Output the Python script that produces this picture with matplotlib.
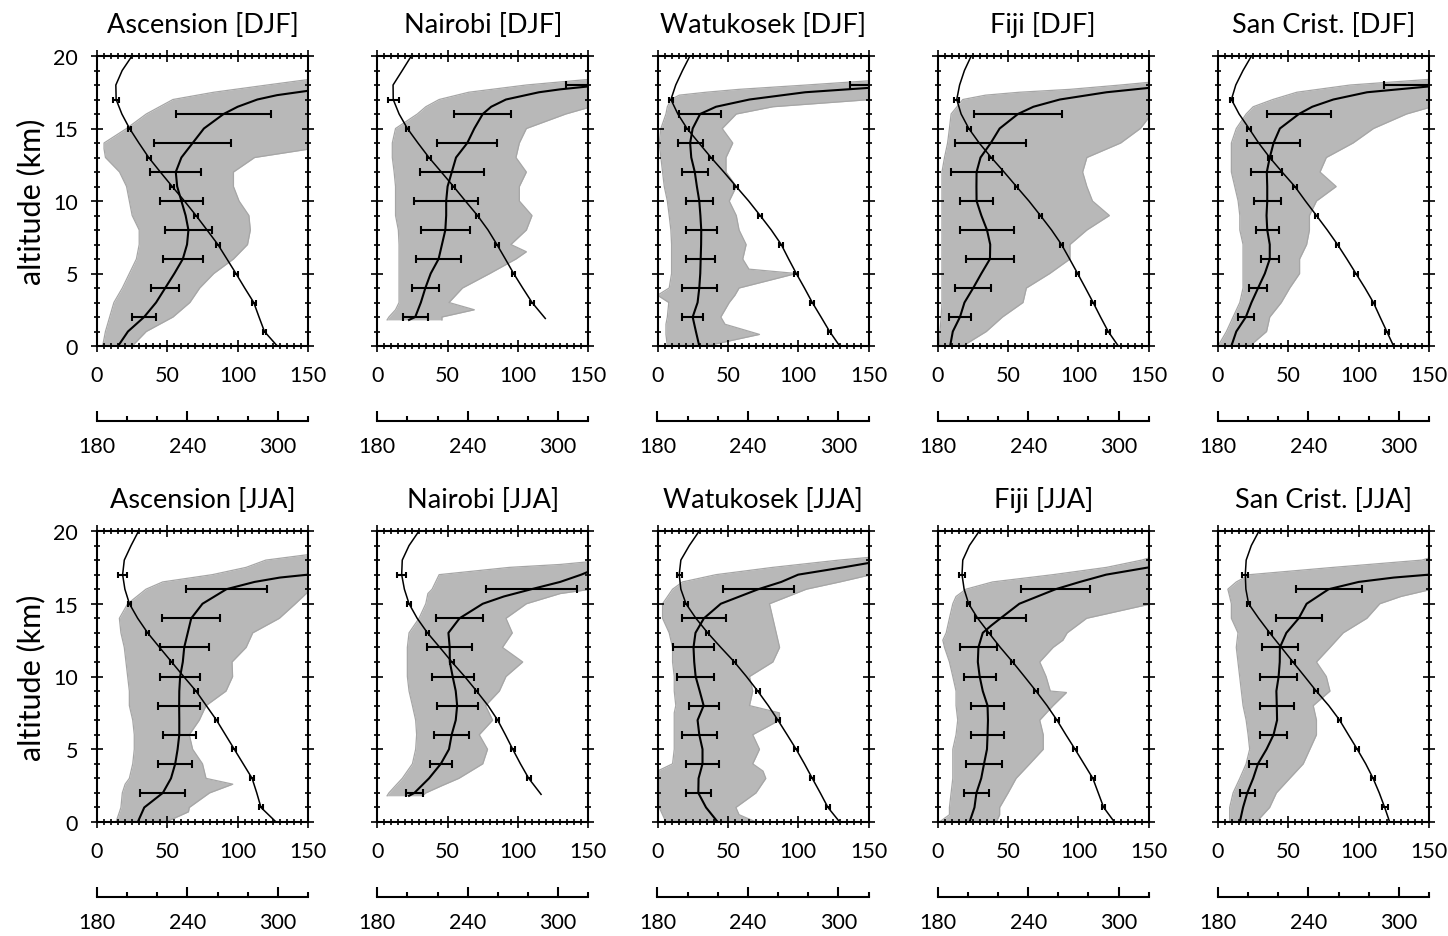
import numpy as np
import matplotlib.pyplot as plt
from matplotlib.ticker import MultipleLocator

plt.rcParams['font.family'] = ['Lato', 'DejaVu Sans']

# ---- common altitude levels (km)
EVEN_KM = [2, 4, 6, 8, 10, 12, 14, 16, 18]   # ozone error bars
ODD_KM = [1, 3, 5, 7, 9, 11, 13, 15, 17]     # temperature error bars
T_ALT = list(range(0, 21))
T_ALT_NAIROBI = [1.9] + list(range(3, 21))

# ======================= DJF =======================
# Ascension DJF
asc_djf_o3_alt = [0, 1, 2, 3, 4, 5, 6, 7, 8, 9, 10, 11, 12, 13, 14, 15, 16, 16.5, 17, 17.3, 17.6, 18]
asc_djf_o3 = [15, 22, 33.5, 42, 48.5, 55, 61, 64, 65, 63, 60, 57, 56, 60, 68, 76, 90, 100, 114, 128,
              150, 170]
asc_djf_o3_sd = [8.5, 10, 14, 17, 15.5, 18, 27.5, 34]
asc_djf_t = [299.6, 291.1, 287.5, 284, 278, 272.2, 266.2, 260.2, 253, 245.7, 238, 229.9, 222,
             214.3, 207.8, 201.6, 196.5, 192.7, 192.5, 196.7, 203.2]
asc_djf_t_sd = [1.2, 1.2, 1.2, 1.2, 1.2, 1.2, 1.2, 1.2, 1.8]
asc_djf_env_alt = [0, 1, 2, 3, 4, 5, 6, 7, 8, 9, 10, 11, 12, 13, 13.6, 14, 15, 16, 17, 17.5, 18, 18.4]
asc_djf_env_lo = [4, 6, 9, 12, 18, 23, 28, 30, 30, 25, 23, 21, 16, 6, 5, 5, 21, 35, 54, 83, 121, 152]
asc_djf_env_hi = [25, 35, 54, 66, 73, 83, 97, 107, 109, 108, 101, 97, 97, 112, 152, 152, 152, 152,
                  152, 152, 152, 152]

# Nairobi DJF
nai_djf_o3_alt = [1.8, 2, 3, 4, 5, 6, 7, 8, 9, 10, 11, 12, 13, 14, 15, 16, 16.5, 17, 17.5, 17.7,
                  17.9, 18]
nai_djf_o3 = [22.6, 27, 31, 34.2, 38, 43.6, 46, 48.4, 49, 49, 50, 53, 56, 64, 69, 75, 81, 91.5, 115,
              130, 150, 155]
nai_djf_o3_sd = [8.9, 9.7, 15.8, 17.5, 22.8, 22.9, 21.3, 20.4, 21]
nai_djf_t = [291.5, 282.7, 276.5, 270.5, 265, 259.4, 253.5, 246.5, 238.5, 230.6, 222.5, 214.3,
             207, 200, 194.5, 190.6, 190.5, 196.6, 202.6]
nai_djf_t_sd = [np.nan, 1.2, 1.2, 1.2, 1.2, 1.2, 1.2, 1.2, 3.7]
nai_djf_env_alt = [1.8, 2, 2.5, 3, 4, 5, 6, 6.5, 7, 8, 9, 10, 11, 12, 13, 14, 15, 16, 16.5, 17, 17.5,
                   18, 18.4]
nai_djf_env_lo = [7, 8.3, 13, 15.5, 15.5, 15.5, 15.5, 15.5, 15.5, 15, 13, 13, 13, 12, 10.7, 10.7, 13,
                  28.5, 34.5, 44, 65, 106, 152]
nai_djf_env_hi = [46, 46, 69, 51, 60.6, 80, 98.6, 106, 95, 106, 110, 101, 101, 106, 98.6, 101, 106,
                  134, 152, 152, 152, 152, 152]

# Watukosek DJF
wat_djf_o3_alt = [0, 1, 2, 3, 4, 5, 6, 7, 8, 9, 10, 11, 12, 13, 14, 15, 16, 16.5, 17, 17.5, 17.8, 18]
wat_djf_o3 = [29.7, 27.3, 25, 28.5, 29.7, 30.4, 30.7, 31, 31.1, 30.5, 29.7, 28, 26.5, 24, 23.2, 25,
              30.3, 41.6, 65.4, 105, 150, 160]
wat_djf_o3_sd = [7.6, 12.4, 10.5, 10.9, 9.5, 9.2, 8.9, 14.9, 23]
wat_djf_t = [300.9, 294.2, 288.5, 282.7, 277.5, 272.1, 267, 262.1, 255.5, 248.1, 240.5, 232.2, 224,
             215.5, 207.5, 199.6, 193.5, 188.9, 192.1, 196.6, 201.5]
wat_djf_t_sd = [1.2, 1.2, 1.2, 1.2, 1.2, 1.2, 1.2, 1.2, 1.2]
wat_djf_env_alt = [0, 0.8, 1.5, 2, 3, 3.5, 4, 5, 5.3, 6, 7, 8, 9, 10, 11, 12, 13, 14, 15, 16, 16.5,
                   17, 17.3, 17.5, 17.7, 18, 18.3]
wat_djf_env_lo = [7, 6, 6, 7, 8, 0, 8.3, 10, 10, 10, 10, 9.5, 8.3, 7, 4.8, 3.6, 2.4, 1.2, 2.4, 6, 7,
                  9.5, 15.5, 34.5, 58, 106, 152]
wat_djf_env_hi = [34.5, 72.5, 48, 45, 51, 55, 58, 98.6, 65, 60.6, 63, 58, 56, 51, 56, 48.7, 48.7,
                  53.5, 46, 56, 82, 152, 152, 152, 152, 152, 152]

# Fiji DJF
fij_djf_o3_alt = [0, 1, 2, 3, 4, 5, 6, 7, 8, 9, 10, 11, 12, 13, 14, 15, 16, 16.5, 17, 17.5, 17.8, 18]
fij_djf_o3 = [8.8, 10.7, 15.8, 19, 25.2, 31, 37.1, 37.3, 35, 31, 27.6, 27.5, 27.6, 30.4, 37.7, 44,
              57, 68, 86.8, 120, 150, 170]
fij_djf_o3_sd = [8, 12.8, 16.9, 19, 11.6, 18, 25.3, 31]
fij_djf_t = [299.8, 293.1, 288, 283.1, 278, 272.8, 267.5, 262.1, 255.5, 248.1, 240.5, 232.2, 224,
             215.5, 207.5, 200.6, 195.5, 192.6, 194.5, 197.7, 202.2]
fij_djf_t_sd = [1.2, 1.2, 1.2, 1.2, 1.2, 1.2, 1.2, 1.2, 1.6]
fij_djf_env_alt = [0, 1, 2, 3, 4, 5, 6, 7, 8, 9, 10, 11, 12, 13, 14, 15, 16, 17, 17.3, 17.5, 17.7,
                   18, 18.2]
fij_djf_env_lo = [1.2, 1.6, 2.4, 3, 3, 3, 3, 3, 3, 3, 3, 3, 3, 4.8, 7, 8.3, 9.5, 17.8, 34, 58, 94,
                  130, 152]
fij_djf_env_hi = [17.8, 34.5, 46, 60.6, 63, 79.6, 94, 94, 106, 122, 110, 106, 103, 106, 130, 144,
                  152, 152, 152, 152, 152, 152, 152]

# San Cristobal DJF
san_djf_o3_alt = [0, 1, 2, 3, 4, 5, 6, 7, 8, 9, 10, 11, 12, 13, 14, 15, 16, 16.5, 17, 17.5, 17.9, 18]
san_djf_o3 = [9.5, 13, 19.8, 23.8, 28.5, 33.3, 36.8, 36.8, 35, 34.5, 35, 35, 34.7, 36.8, 39.5, 44,
              57.5, 67, 82, 106, 150, 158]
san_djf_o3_sd = [5.6, 6.4, 6.4, 8.2, 9.5, 10.9, 18.8, 22.6, 40]
san_djf_t = [296.5, 292, 287.5, 283.1, 277.5, 271.5, 265.5, 259.3, 252.5, 245.3, 238, 231, 222.5,
             214.3, 207, 200.6, 194, 188.9, 191.8, 196.6, 202.2]
san_djf_t_sd = [1.2, 1.2, 1.2, 1.2, 1.2, 1.2, 1.2, 1.2, 1.2]
san_djf_env_alt = [0, 1, 2, 3, 4, 5, 6, 7, 8, 9, 10, 11, 12, 13, 14, 15, 16, 16.5, 17, 17.5, 18, 18.4]
san_djf_env_lo = [0, 6, 10.7, 15.5, 17.8, 17.8, 17.8, 17.8, 15.5, 15.5, 14.3, 11.9, 9.5, 9.5, 9.5,
                  13, 20, 25, 39, 56, 94, 152]
san_djf_env_hi = [22.6, 34.5, 36.8, 45, 51, 58, 58, 63, 65, 65, 70, 84, 72.5, 77, 96, 110.5, 134,
                  152, 152, 152, 152, 152]

# ======================= JJA =======================
# Ascension JJA
asc_jja_o3_alt = [0, 1, 2, 3, 4, 5, 6, 7, 8, 9, 10, 11, 12, 13, 14, 15, 16, 16.5, 16.8, 17, 17.2]
asc_jja_o3 = [29, 33.6, 46.8, 52.6, 55.6, 57.3, 58.5, 58.5, 58.4, 58.5, 59.1, 61, 62, 64.5, 67, 75,
              92, 112, 130, 150, 165]
asc_jja_o3_sd = [16, 12, 11.8, 14.8, 14.1, 17.3, 20.6, 28.9]
asc_jja_t = [298.8, 288.8, 286, 282.9, 277, 271.1, 265.2, 259.3, 252.5, 245.7, 237.5, 229.5, 221.5,
             213.6, 207, 201.5, 198.5, 197, 198.1, 202.6, 207.6]
asc_jja_t_sd = [1.2, 1.2, 1.2, 1.2, 1.2, 1.2, 1.2, 1.2, 3]
asc_jja_env_alt = [0, 0.7, 1, 2, 2.6, 3, 4, 5, 6, 7, 8, 9, 10, 11, 12, 13, 14, 15, 16, 16.5, 17,
                   17.5, 18, 18.4]
asc_jja_env_lo = [13.5, 16, 17, 18, 20, 23, 25.4, 26.5, 26.5, 25.4, 23, 23, 21.8, 20.6, 19.4, 17,
                  15.9, 21.8, 34.8, 46.7, 82, 106, 120, 152]
asc_jja_env_hi = [49, 65, 65.6, 80, 96.5, 77.5, 75, 68, 65.6, 72.7, 77.5, 91.7, 96.4, 96, 106, 110.7,
                  129.6, 141, 152, 152, 152, 152, 152, 152]

# Nairobi JJA
nai_jja_o3_alt = [1.8, 2, 3, 4, 5, 6, 7, 8, 9, 10, 11, 12, 13, 14, 15, 15.5, 16, 16.5, 17, 17.2, 17.5]
nai_jja_o3 = [22.6, 26.4, 36.8, 45.2, 51, 52.9, 55.8, 56.8, 55.8, 53.6, 51.6, 51.5, 50.6, 58.5, 75,
              90, 109.6, 130, 145, 150, 160]
nai_jja_o3_sd = [6.2, 7.8, 12.5, 14.5, 14.9, 15.8, 16.4, 32.3]
nai_jja_t = [288.7, 280.5, 275, 269.9, 265, 259.9, 253.5, 245.9, 238, 229.5, 221.5, 213.3, 206.5,
             201.1, 198, 196.2, 196.6, 201.1, 207.7]
nai_jja_t_sd = [np.nan, 1.2, 1.2, 1.2, 1.2, 1.2, 1.2, 1.2, 3]
nai_jja_env_alt = [1.8, 2, 2.5, 3, 4, 5, 6, 7, 8, 9, 10, 11, 12, 13, 14, 15, 15.7, 16, 17, 17.5,
                   17.7, 17.9]
nai_jja_env_lo = [7, 8.3, 13, 17.8, 25, 27.3, 28, 27.3, 25, 22.6, 21.4, 21.4, 21.4, 22.6, 29.7, 34.5,
                  36, 39, 44, 94, 130, 152]
nai_jja_env_hi = [32, 34.5, 46, 58, 75, 78.4, 72.5, 82, 77, 86.8, 91.5, 103.4, 89, 96, 91.5, 106,
                  130, 152, 152, 152, 152, 152]

# Watukosek JJA
wat_jja_o3_alt = [0, 1, 2, 3, 4, 5, 6, 7, 8, 9, 10, 11, 12, 13, 14, 15, 16, 16.5, 17, 17.5, 17.8, 18]
wat_jja_o3 = [42.8, 34.5, 29, 29.2, 32, 32, 29.7, 28.5, 32.8, 30, 27.1, 26.1, 25.6, 27, 33, 45, 71.7,
              88, 100, 132, 150, 160]
wat_jja_o3_sd = [8.7, 11.9, 12.4, 10.7, 13.3, 14.9, 15.5, 25.3]
wat_jja_t = [300.9, 293.1, 288, 282.7, 277.5, 272, 266, 259.9, 253.5, 246.5, 239, 231, 222, 213.3,
             205.5, 198.9, 195.5, 194.4, 195.5, 201.1, 207.7]
wat_jja_t_sd = [1.2, 1.2, 1.2, 1.2, 1.2, 1.2, 1.2, 1.2, 1.6]
wat_jja_env_alt = [0, 0.5, 1, 2, 3, 3.5, 4, 5, 6, 7, 7.5, 8, 9, 10, 11, 12, 13, 14, 15, 16, 16.5, 17,
                   17.5, 18, 18.2]
wat_jja_env_lo = [6, 3.6, 1.2, 1.2, 1.2, 0, 10.7, 11.9, 11.9, 11.9, 11.9, 13, 11.9, 11.9, 10.7, 10.7,
                  8.3, 3.6, 3.6, 10.7, 17.8, 41.6, 82, 129, 152]
wat_jja_env_hi = [70, 58, 55.7, 70, 77, 75, 67.7, 72.5, 67.7, 86.7, 86.7, 65.4, 67.7, 65.4, 82, 86.8,
                  84.4, 82, 79.6, 105.8, 129.6, 152, 152, 152, 152]

# Fiji JJA
fij_jja_o3_alt = [0, 1, 2, 3, 4, 5, 6, 7, 8, 9, 10, 11, 12, 13, 13.5, 14, 15, 16, 16.5, 17, 17.5,
                  17.7]
fij_jja_o3 = [22.6, 26.1, 27.5, 30.9, 32.9, 35, 35.4, 35.7, 35.4, 32, 29.8, 28.5, 28.9, 32, 38, 44.6,
              58, 83.8, 101, 119.7, 150, 160]
fij_jja_o3_sd = [8.9, 12.7, 11.6, 11.6, 11.3, 13.4, 18.4, 24.4]
fij_jja_t = [297.2, 290.1, 286.5, 282.9, 277, 271.1, 265, 259.1, 252.5, 245.2, 237.5, 229.7, 221.5,
             213.9, 206.5, 200.5, 197.5, 196.1, 196.6, 201, 207.6]
fij_jja_t_sd = [1.2, 1.2, 1.2, 1.2, 1.2, 1.2, 1.2, 1.2, 2.2]
fij_jja_env_alt = [0, 0.5, 1, 2, 3, 4, 5, 6, 7, 8, 8.9, 9, 10, 11, 12, 12.5, 13, 14, 15, 15.5, 16,
                   16.5, 17, 17.5, 18, 18.2]
fij_jja_env_lo = [1.2, 8.3, 8.3, 9.5, 10.7, 10.7, 10.7, 13, 14.2, 13, 13, 13, 10.7, 8.3, 4.8, 3.6, 6,
                  8.3, 10.7, 13, 20, 39, 82, 120, 145, 152]
fij_jja_env_hi = [41.6, 44, 44, 50, 55.7, 65.4, 75, 75, 72.5, 82, 91.5, 80, 77, 72.5, 82, 89, 92,
                  105.8, 152, 152, 152, 152, 152, 152, 152, 152]

# San Cristobal JJA
san_jja_o3_alt = [0, 1, 2, 3, 4, 5, 6, 7, 8, 9, 10, 11, 12, 13, 14, 15, 16, 16.5, 16.8, 17, 17.3]
san_jja_o3 = [15.5, 17.8, 20.8, 25, 28.4, 34.5, 39.5, 42, 41.8, 41.5, 43.1, 43.9, 44, 48.6, 57.4, 63,
              78.7, 100, 125, 150, 170]
san_jja_o3_sd = [5.3, 6.5, 9.7, 12.1, 13.4, 13, 16.5, 23.5]
san_jja_t = [293.9, 290.6, 287, 282.9, 278, 272.4, 266.5, 260.7, 253.5, 245.2, 237.5, 229.7, 222,
             214.3, 207, 200.3, 198.5, 198.1, 198.7, 202.1, 207.2]
san_jja_t_sd = [2, 1.2, 1.2, 1.2, 1.2, 1.2, 1.2, 1.2, 2]
san_jja_env_alt = [0, 1, 2, 3, 4, 5, 6, 7, 8, 9, 10, 11, 12, 13, 14, 15, 15.5, 16, 16.5, 17, 17.5,
                   18, 18.2]
san_jja_env_lo = [8.3, 8.3, 10.7, 15.5, 20, 22.5, 21.4, 20, 17.8, 16.6, 15.4, 14.2, 13, 14.2, 9.5,
                  9.5, 8.3, 7, 13, 22.6, 82, 145, 152]
san_jja_env_hi = [27.3, 36.7, 41.5, 51, 60.6, 65.3, 70, 70, 67.7, 79.6, 77, 70, 79.6, 89, 105.8, 115,
                  130, 152, 152, 152, 152, 152, 152]

stations = ["Ascension", "Nairobi", "Watukosek", "Fiji", "San Crist."]
seasons = ["DJF", "JJA"]

panels = [
    [(asc_djf_o3_alt, asc_djf_o3, asc_djf_o3_sd, T_ALT, asc_djf_t, asc_djf_t_sd,
      asc_djf_env_alt, asc_djf_env_lo, asc_djf_env_hi),
     (nai_djf_o3_alt, nai_djf_o3, nai_djf_o3_sd, T_ALT_NAIROBI, nai_djf_t, nai_djf_t_sd,
      nai_djf_env_alt, nai_djf_env_lo, nai_djf_env_hi),
     (wat_djf_o3_alt, wat_djf_o3, wat_djf_o3_sd, T_ALT, wat_djf_t, wat_djf_t_sd,
      wat_djf_env_alt, wat_djf_env_lo, wat_djf_env_hi),
     (fij_djf_o3_alt, fij_djf_o3, fij_djf_o3_sd, T_ALT, fij_djf_t, fij_djf_t_sd,
      fij_djf_env_alt, fij_djf_env_lo, fij_djf_env_hi),
     (san_djf_o3_alt, san_djf_o3, san_djf_o3_sd, T_ALT, san_djf_t, san_djf_t_sd,
      san_djf_env_alt, san_djf_env_lo, san_djf_env_hi)],
    [(asc_jja_o3_alt, asc_jja_o3, asc_jja_o3_sd, T_ALT, asc_jja_t, asc_jja_t_sd,
      asc_jja_env_alt, asc_jja_env_lo, asc_jja_env_hi),
     (nai_jja_o3_alt, nai_jja_o3, nai_jja_o3_sd, T_ALT_NAIROBI, nai_jja_t, nai_jja_t_sd,
      nai_jja_env_alt, nai_jja_env_lo, nai_jja_env_hi),
     (wat_jja_o3_alt, wat_jja_o3, wat_jja_o3_sd, T_ALT, wat_jja_t, wat_jja_t_sd,
      wat_jja_env_alt, wat_jja_env_lo, wat_jja_env_hi),
     (fij_jja_o3_alt, fij_jja_o3, fij_jja_o3_sd, T_ALT, fij_jja_t, fij_jja_t_sd,
      fij_jja_env_alt, fij_jja_env_lo, fij_jja_env_hi),
     (san_jja_o3_alt, san_jja_o3, san_jja_o3_sd, T_ALT, san_jja_t, san_jja_t_sd,
      san_jja_env_alt, san_jja_env_lo, san_jja_env_hi)],
]

W, H = 1448, 937
fig = plt.figure(figsize=(W / 100, H / 100), dpi=100)

row_top_px = [57, 532]
row_bot_px = [347, 823]

for r in range(2):
    for c in range(5):
        (o3_alt, o3, o3_sd, t_alt, t, t_sd, env_alt, env_lo, env_hi) = panels[r][c]
        left = (97 + c * 280.25) / W
        bottom = 1 - row_bot_px[r] / H
        height = (row_bot_px[r] - row_top_px[r]) / H
        ax = fig.add_axes([left, bottom, 211 / W, height])

        # gray spread of individual soundings
        ax.fill_betweenx(env_alt, env_lo, env_hi, color="#b8b8b8", lw=0, zorder=1)
        ax.plot(env_lo, env_alt, color="#a6a6a6", lw=0.9, zorder=1.5)
        ax.plot(env_hi, env_alt, color="#a6a6a6", lw=0.9, zorder=1.5)

        # mean ozone + sd
        ax.plot(o3, o3_alt, color="black", lw=1.5, zorder=3)
        lev = EVEN_KM[:len(o3_sd)]
        ax.errorbar(np.interp(lev, o3_alt, o3), lev, xerr=o3_sd, fmt="none",
                    ecolor="black", elinewidth=1.5, capsize=3, capthick=1.5, zorder=3)
        ax.set_xlim(0, 150)
        ax.set_ylim(0, 20)

        # temperature on second x axis
        ax2 = ax.twiny()
        ax2.set_xlim(180, 320)
        ax2.plot(t, t_alt, color="black", lw=1.1, zorder=4)
        tlev = [a for a, s in zip(ODD_KM, t_sd) if not np.isnan(s)]
        tsd = [s for s in t_sd if not np.isnan(s)]
        ax2.errorbar(np.interp(tlev, t_alt, t), tlev, xerr=tsd, fmt="none",
                     ecolor="black", elinewidth=1.5, capsize=2, capthick=1.5, zorder=4)
        ax2.set_ylim(0, 20)
        for s in ["top", "left", "right"]:
            ax2.spines[s].set_visible(False)
        ax2.spines["bottom"].set_visible(True)
        ax2.spines["bottom"].set_position(("outward", 54))
        ax2.spines["bottom"].set_linewidth(1.5)
        ax2.xaxis.set_ticks_position("bottom")
        ax2.set_xticks([180, 240, 300])
        ax2.xaxis.set_minor_locator(MultipleLocator(20))
        ax2.tick_params(axis="x", which="both", direction="in", width=1.5, labelsize=15.5, pad=11)
        ax2.tick_params(axis="x", which="major", length=7)
        ax2.tick_params(axis="x", which="minor", length=3.5)

        # main axes ticks
        for s in ax.spines.values():
            s.set_linewidth(1.5)
        ax.set_xticks([0, 50, 100, 150])
        ax.set_yticks([0, 5, 10, 15, 20])
        ax.xaxis.set_minor_locator(MultipleLocator(5))
        ax.yaxis.set_minor_locator(MultipleLocator(1))
        ax.tick_params(which="both", direction="inout", top=True, right=True,
                       bottom=True, left=True, labeltop=False, labelright=False,
                       labelleft=(c == 0), width=1.2, labelsize=15.5)
        ax.tick_params(which="major", length=9, pad=9)
        ax.tick_params(which="minor", length=5)

        ax.set_title(f"{stations[c]} [{seasons[r]}]", fontsize=19.5, pad=17)
        if c == 0:
            ax.set_ylabel("altitude (km)", fontsize=22, labelpad=6)

fig.savefig("out.png", dpi=100)
